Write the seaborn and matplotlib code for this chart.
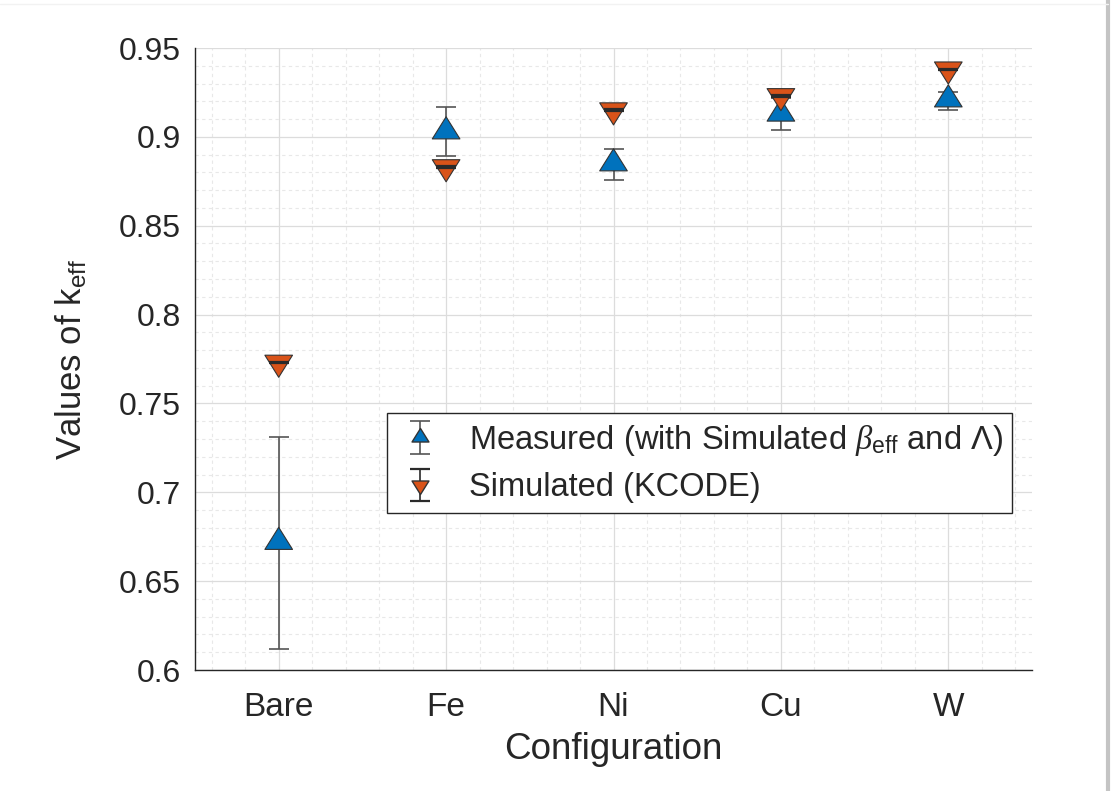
import matplotlib
matplotlib.use("Agg")
import matplotlib.pyplot as plt
import seaborn as sns
import numpy as np
import pandas as pd
from matplotlib.lines import Line2D
from matplotlib.path import Path
from matplotlib.ticker import MultipleLocator, FixedLocator

configs = ["Bare", "Fe", "Ni", "Cu", "W"]
measured = [0.672, 0.903, 0.885, 0.913, 0.921]
measured_lo = [0.612, 0.889, 0.876, 0.904, 0.915]
measured_hi = [0.731, 0.917, 0.893, 0.922, 0.925]
simulated = [0.773, 0.883, 0.915, 0.923, 0.938]
simulated_err = [0.0004, 0.0004, 0.0004, 0.0004, 0.0004]
yticks = [0.6, 0.65, 0.7, 0.75, 0.8, 0.85, 0.9, 0.95]
ytick_labels = ["0.6", "0.65", "0.7", "0.75", "0.8", "0.85", "0.9", "0.95"]

sns.set_style("white")
plt.rcParams['font.family'] = ['Liberation Sans', 'DejaVu Sans']
plt.rcParams['mathtext.fontset'] = 'custom'
plt.rcParams['mathtext.rm'] = 'Liberation Sans'
plt.rcParams['mathtext.it'] = 'Liberation Serif:italic'
plt.rcParams['mathtext.sf'] = 'Liberation Sans'

BLUE = "#0072BD"
ORANGE = "#D95319"
GREY = "#555555"
TXT = "#262626"

# triangles centred on their centroid (MATLAB style)
UP = Path([(-1.0, -0.533), (1.0, -0.533), (0.0, 1.067), (-1.0, -0.533)],
          [Path.MOVETO, Path.LINETO, Path.LINETO, Path.CLOSEPOLY])
DOWN = Path([(-1.0, 0.533), (1.0, 0.533), (0.0, -1.067), (-1.0, 0.533)],
            [Path.MOVETO, Path.LINETO, Path.LINETO, Path.CLOSEPOLY])

fig = plt.figure(figsize=(11.14, 7.91), dpi=100)
ax = fig.add_axes([195/1114, 1 - 670/791, (1032-195)/1114, (670-48)/791])

xpos = np.arange(1, len(configs) + 1)
df = pd.DataFrame({
    "x": np.concatenate([xpos, xpos]),
    "k": measured + simulated,
    "series": ["Measured"] * 5 + ["Simulated"] * 5,
})

m = np.array(measured)
yerr_m = [m - np.array(measured_lo), np.array(measured_hi) - m]
eb1 = ax.errorbar(xpos, measured, yerr=yerr_m, fmt='none', ecolor=GREY,
                  elinewidth=1.2, capsize=7, capthick=1.2, zorder=2)
eb2 = ax.errorbar(xpos, simulated, yerr=simulated_err, fmt='none', ecolor="#2a2a2a",
                  elinewidth=1.2, capsize=7, capthick=1.6, zorder=4)

sns.scatterplot(data=df, x="x", y="k", hue="series", style="series",
                markers={"Measured": UP, "Simulated": DOWN},
                palette={"Measured": BLUE, "Simulated": ORANGE},
                s=450, edgecolor="#333333", linewidth=0.8, legend=False,
                ax=ax, zorder=3)

ax.set_xlim(0.5, 5.5)
ax.set_ylim(0.6, 0.95)
ax.xaxis.set_major_locator(FixedLocator(xpos))
ax.set_xticklabels(configs)
ax.yaxis.set_major_locator(FixedLocator(yticks))
ax.set_yticklabels(ytick_labels)
ax.xaxis.set_minor_locator(MultipleLocator(0.2))
ax.yaxis.set_minor_locator(MultipleLocator(0.01))

ax.grid(True, which='major', color='#dcdcdc', linewidth=0.9, linestyle='-')
ax.grid(True, which='minor', color='#e8e8e8', linewidth=0.8, linestyle=(0, (3, 3)))
ax.set_axisbelow(True)

ax.tick_params(which='major', direction='in', length=8, width=1, colors=TXT,
               labelsize=23, top=False, right=False)
ax.tick_params(axis='x', pad=16, labelsize=24)
ax.tick_params(axis='y', pad=10)
ax.tick_params(which='minor', length=0)
for side in ['left', 'bottom']:
    ax.spines[side].set_color(TXT)
    ax.spines[side].set_linewidth(1.0)
for side in ['top', 'right']:
    ax.spines[side].set_visible(False)

ax.set_xlabel("Configuration", fontsize=26.5, color=TXT, labelpad=6)
ax.set_ylabel(r"Values of k$_{\mathrm{eff}}$", fontsize=25, color=TXT, labelpad=22)

h1 = (eb1, Line2D([], [], marker=UP, linestyle='none', markerfacecolor=BLUE,
                  markeredgecolor='#333333', markersize=13))
h2 = (eb2, Line2D([], [], marker=DOWN, linestyle='none', markerfacecolor=ORANGE,
                  markeredgecolor='#333333', markersize=13))
leg = ax.legend([h1, h2],
                [r"Measured (with Simulated $\beta_{\mathrm{eff}}$ and $\Lambda$)",
                 "Simulated (KCODE)"],
                loc='upper left', bbox_to_anchor=((387-195)/837, 1 - (413-48)/622),
                fontsize=23.5, frameon=True, fancybox=False, edgecolor=TXT,
                framealpha=1, handlelength=1.4, handletextpad=0.8, borderpad=0.3,
                labelspacing=0.45, borderaxespad=0)
leg.get_frame().set_linewidth(1.0)

# faint frame/shadow of the original figure window
fig.add_artist(Line2D([1108/1114, 1108/1114], [0, 1], transform=fig.transFigure,
                      color='#c4c4c4', linewidth=3))
fig.add_artist(Line2D([0, 1108/1114], [1 - 4/791, 1 - 4/791], transform=fig.transFigure,
                      color='#f2f2f2', linewidth=1))

fig.savefig("out.png", dpi=100, facecolor='white')
